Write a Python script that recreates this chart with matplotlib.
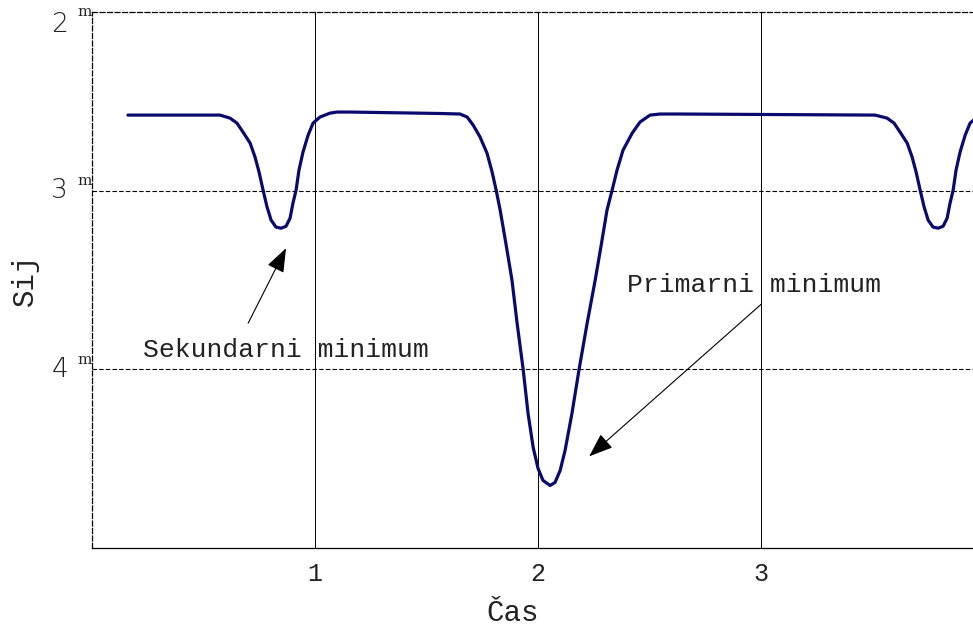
import matplotlib
matplotlib.use("Agg")
import matplotlib.pyplot as plt

# svjetlosna krivulja (vrijeme, magnituda) ocitano sa slike
cas = [0.161, 0.484, 0.574, 0.619, 0.650, 0.677, 0.709, 0.731, 0.749, 0.767,
       0.785, 0.803, 0.825, 0.848, 0.870, 0.888, 0.901, 0.915, 0.928, 0.946,
       0.969, 0.991, 1.022, 1.067, 1.099, 1.157,
       1.561, 1.650, 1.682, 1.709, 1.740, 1.771, 1.794, 1.812, 1.830, 1.857,
       1.883, 1.906, 1.933, 1.955, 1.978, 2.000, 2.022, 2.054, 2.076, 2.099,
       2.121, 2.152, 2.184, 2.220, 2.256, 2.283, 2.309, 2.332, 2.354, 2.381,
       2.422, 2.457, 2.502, 2.547, 2.637,
       3.511, 3.565, 3.596, 3.623, 3.655, 3.677, 3.695, 3.713, 3.731, 3.749,
       3.771, 3.794, 3.816, 3.834, 3.847, 3.861, 3.874, 3.892, 3.915, 3.937,
       3.968]
sjaj = [2.577, 2.577, 2.577, 2.594, 2.622, 2.672, 2.734, 2.812, 2.896, 2.997,
        3.092, 3.165, 3.204, 3.210, 3.199, 3.154, 3.070, 2.997, 2.885, 2.784,
        2.689, 2.622, 2.588, 2.566, 2.560, 2.560,
        2.568, 2.571, 2.588, 2.633, 2.700, 2.790, 2.896, 2.997, 3.109, 3.305,
        3.501, 3.742, 3.999, 4.246, 4.437, 4.555, 4.622, 4.650, 4.633, 4.566,
        4.454, 4.246, 3.999, 3.742, 3.501, 3.305, 3.109, 2.997, 2.885, 2.773,
        2.678, 2.616, 2.577, 2.571, 2.571,
        2.577, 2.594, 2.622, 2.672, 2.734, 2.812, 2.896, 2.997, 3.092, 3.165,
        3.204, 3.210, 3.199, 3.154, 3.070, 2.997, 2.885, 2.784, 2.689, 2.622,
        2.588]

x_ticks = [1, 2, 3]
y_ticks = [2, 3, 4]
y_labels = ['2', '3', '4']

font = 'Liberation Mono'

fig = plt.figure(figsize=(9.73, 6.35), dpi=100)
ax = fig.add_axes([92/973, 1-548/635, 881/973, 536/635])

ax.plot(cas, sjaj, color='#0a0a6e', lw=2.3, zorder=3,
        solid_joinstyle='round', solid_capstyle='round')

ax.set_xlim(0, 3.95)
ax.set_ylim(5, 2)

# mreza
for xv in x_ticks:
    ax.axvline(xv, color='black', lw=0.7, zorder=1)
for yv in y_ticks[1:]:
    ax.axhline(yv, color='black', lw=0.8, ls=(0, (4, 2)), zorder=1)

ax.spines['right'].set_visible(False)
ax.spines['top'].set_linestyle((0, (4, 2)))
ax.spines['left'].set_linestyle((0, (4, 2)))
for s in ax.spines.values():
    s.set_linewidth(0.9)

ax.set_xticks(x_ticks)
ax.set_xticklabels([str(v) for v in x_ticks], fontsize=18, family=font,
                   color='#222222')
ax.tick_params(axis='x', length=0, pad=10)
ax.set_yticks([])

# oznake magnitude
tr = ax.get_yaxis_transform()
for yv, lab in zip(y_ticks, y_labels):
    off = 0.07 if yv == 2 else 0.0
    moff = 0.0 if yv == 2 else -0.055
    ax.text(-0.027, yv + off, lab, transform=tr, ha='right', va='center',
            fontsize=19, family='DejaVu Sans', fontweight='light', color='#222222')
    ax.text(-0.016, yv + moff, 'm', transform=tr, ha='left', va='center',
            fontsize=11, family='DejaVu Serif', color='#222222')

ax.set_xlabel('Čas', fontsize=21, family=font, color='#222222')
ax.xaxis.set_label_coords((513 - 92) / 881, -0.095)
ax.set_ylabel('Sij', fontsize=21, family=font, labelpad=38, color='#222222')

ax.text(0.229, 3.894, 'Sekundarni minimum', fontsize=19, family=font,
        va='center', ha='left', color='#222222')
ax.text(2.399, 3.529, 'Primarni minimum', fontsize=19, family=font,
        va='center', ha='left', color='#222222')

arrow = dict(arrowstyle='-|>,head_length=0.75,head_width=0.28',
             color='black', lw=0.8, mutation_scale=20, shrinkA=0, shrinkB=0)
ax.annotate('', xy=(0.870, 3.322), xytext=(0.700, 3.742), arrowprops=arrow)
ax.annotate('', xy=(2.229, 4.487), xytext=(3.0, 3.636), arrowprops=arrow)

fig.savefig('out.png', dpi=100)
